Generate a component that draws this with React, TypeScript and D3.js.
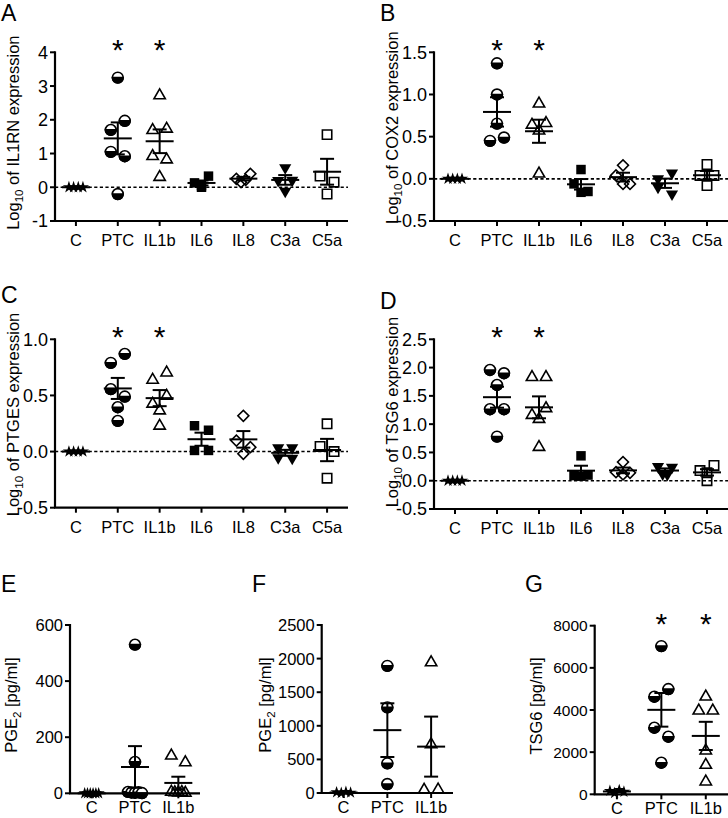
import React from 'react';
import * as d3 from 'd3';

// ---------- categories ----------
const categories = ['C', 'PTC', 'IL1b', 'IL6', 'IL8', 'C3a', 'C5a'];
const elisaCategories = ['C', 'PTC', 'IL1b'];
const significant = ['PTC', 'IL1b'];

// ---------- A: log10 IL1RN expression ----------
const il1rnC = [0, 0, 0, 0];
const il1rnPTC = [3.25, 1.7, 1.97, 1.05, 0.92, -0.2];
const il1rnIL1b = [2.72, 1.69, 1.73, 0.92, 0.82, 0.3];
const il1rnIL6 = [0.13, 0.05, 0.33, 0.0];
const il1rnIL8 = [0.25, 0.15, 0.22, 0.4];
const il1rnC3a = [0.58, 0.2, 0.21, -0.12];
const il1rnC5a = [1.56, 0.33, 0.15, -0.2];

// ---------- B: log10 COX2 expression ----------
const cox2C = [0, 0, 0, 0];
const cox2PTC = [1.37, 1.0, 0.655, 0.45, 0.49];
const cox2IL1b = [0.89, 0.64, 0.57, 0.66, 0.06];
const cox2IL6 = [0.11, -0.06, -0.16, -0.15];
const cox2IL8 = [0.16, 0.04, -0.06, -0.06];
const cox2C3a = [0.0, 0.07, -0.1, -0.18];
const cox2C5a = [0.17, 0.04, 0.04, -0.08];

// ---------- C: log10 PTGES expression ----------
const ptgesC = [0, 0, 0, 0];
const ptgesPTC = [0.79, 0.87, 0.556, 0.49, 0.395, 0.273];
const ptgesIL1b = [0.638, 0.703, 0.425, 0.496, 0.365, 0.229];
const ptgesIL6 = [0.23, 0.19, 0.01, 0.01];
const ptgesIL8 = [0.318, 0.098, 0.039, -0.02];
const ptgesC3a = [0.035, 0.035, -0.055, -0.06];
const ptgesC5a = [0.045, 0.0, 0.247, -0.237];

// ---------- D: log10 TSG6 expression ----------
const tsg6C = [0, 0, 0, 0];
const tsg6PTC = [1.958, 1.9, 1.693, 1.264, 1.264, 0.78];
const tsg6IL1b = [1.83, 1.83, 1.16, 1.09, 1.28, 0.594];
const tsg6IL6 = [0.44, 0.09, 0.08, 0.1];
const tsg6IL8 = [0.15, 0.11, 0.14, 0.33];
const tsg6C3a = [0.25, 0.12, 0.11, 0.24];
const tsg6C5a = [0.18, 0.14, 0.27, 0.0];

// ---------- E: PGE2 [pg/ml] ----------
const pge2aC = [0, 0, 0, 0, 0, 0];
const pge2aPTC = [530, 112, 5, 3, 2, 4, 1];
const pge2aIL1b = [134, 110, 5, 3, 2, 4, 1];

// ---------- F: PGE2 [pg/ml] ----------
const pge2bC = [10, 0, 15, 5];
const pge2bPTC = [1892, 1274, 441, 134];
const pge2bIL1b = [1942, 724, 45, 50];

// ---------- G: TSG6 [pg/ml] ----------
const tsg6pC = [160, 60, 200, 120];
const tsg6pPTC = [7033, 4630, 4993, 3160, 2733, 1500];
const tsg6pIL1b = [4630, 3966, 3966, 2070, 1390, 600];

// ---------- tick values ----------
const ticksA = [-1, 0, 1, 2, 3, 4];
const ticksB = [-0.5, 0, 0.5, 1.0, 1.5];
const ticksC = [-0.5, 0, 0.5, 1.0];
const ticksD = [-0.5, 0, 0.5, 1.0, 1.5, 2.0, 2.5];
const ticksE = [0, 200, 400, 600];
const ticksF = [0, 500, 1000, 1500, 2000, 2500];
const ticksG = [0, 2000, 4000, 6000, 8000];

const FONT = "'Liberation Sans', Arial, Helvetica, sans-serif";

const symbolFor: Record<string, string> = {
  C: 'star', PTC: 'half', IL1b: 'triUp', IL6: 'sqFilled', IL8: 'diamond', C3a: 'triDown', C5a: 'sqOpen',
};

type Seg = { t: string; sub?: boolean };

const fmtInt = (v: number) => d3.format('d')(v).replace('\u2212', '-');
const fmt1 = (v: number) => d3.format('.1f')(v).replace('\u2212', '-');

const panels = [
  {
    letter: 'A', lx: 1, ly: 21, x0: 55, xEnd: 348, yTop: 52.3, yBot: 221, domain: [-1, 4], ticks: ticksA, fmt: fmtInt,
    cats: categories, data: [il1rnC, il1rnPTC, il1rnIL1b, il1rnIL6, il1rnIL8, il1rnC3a, il1rnC5a],
    title: [{ t: 'Log' }, { t: '10', sub: true }, { t: ' of IL1RN expression' }] as Seg[], tOff: 36, tDy: -4, xlOff: 25, zero: true, tickFont: 18,
  },
  {
    letter: 'B', lx: 380, ly: 21, x0: 434, xEnd: 728, yTop: 52.3, yBot: 221, domain: [-0.5, 1.5], ticks: ticksB, fmt: fmt1,
    cats: categories, data: [cox2C, cox2PTC, cox2IL1b, cox2IL6, cox2IL8, cox2C3a, cox2C5a],
    title: [{ t: 'Log' }, { t: '10', sub: true }, { t: ' of COX2 expression' }] as Seg[], tOff: 36, tDy: -9, xlOff: 25, zero: true, tickFont: 18,
  },
  {
    letter: 'C', lx: 1, ly: 303, x0: 55, xEnd: 348, yTop: 339.3, yBot: 507.7, domain: [-0.5, 1.0], ticks: ticksC, fmt: fmt1,
    cats: categories, data: [ptgesC, ptgesPTC, ptgesIL1b, ptgesIL6, ptgesIL8, ptgesC3a, ptgesC5a],
    title: [{ t: 'Log' }, { t: '10', sub: true }, { t: ' of PTGES expression' }] as Seg[], tOff: 36, tDy: -9, xlOff: 25, zero: true, tickFont: 18,
  },
  {
    letter: 'D', lx: 380, ly: 309, x0: 434, xEnd: 728, yTop: 339.3, yBot: 509, domain: [-0.5, 2.5], ticks: ticksD, fmt: fmt1,
    cats: categories, data: [tsg6C, tsg6PTC, tsg6IL1b, tsg6IL6, tsg6IL8, tsg6C3a, tsg6C5a],
    title: [{ t: 'Log' }, { t: '10', sub: true }, { t: ' of TSG6 expression' }] as Seg[], tOff: 36, tDy: -12, xlOff: 25, zero: true, tickFont: 18,
  },
  {
    letter: 'E', lx: 1, ly: 592, x0: 70, xEnd: 200, yTop: 625, yBot: 793.3, domain: [0, 600], ticks: ticksE, fmt: fmtInt,
    cats: elisaCategories, data: [pge2aC, pge2aPTC, pge2aIL1b], stars: [] as string[],
    title: [{ t: 'PGE' }, { t: '2', sub: true }, { t: ' [pg/ml]' }] as Seg[], tOff: 53, tDy: -4, xlOff: 20, zero: false, tickFont: 16.5,
  },
  {
    letter: 'F', lx: 252, ly: 592, x0: 321.7, xEnd: 453, yTop: 625, yBot: 793, domain: [0, 2500], ticks: ticksF, fmt: fmtInt,
    cats: elisaCategories, data: [pge2bC, pge2bPTC, pge2bIL1b], stars: [] as string[],
    title: [{ t: 'PGE' }, { t: '2', sub: true }, { t: ' [pg/ml]' }] as Seg[], tOff: 51, tDy: -4, xlOff: 20, zero: false, tickFont: 16.5,
  },
  {
    letter: 'G', lx: 525, ly: 592, x0: 594.7, xEnd: 728, yTop: 625.7, yBot: 794.3, domain: [0, 8000], ticks: ticksG, fmt: fmtInt,
    cats: elisaCategories, data: [tsg6pC, tsg6pPTC, tsg6pIL1b],
    title: [{ t: 'TSG6 [pg/ml]' }] as Seg[], tOff: 53, tDy: -4, xlOff: 20, zero: false, tickFont: 15.5,
  },
];

// Spread points of similar value side by side (scatter dot plot layout)
function rowOffsets(values: number[], y: (v: number) => number, threshold = 10, extent = 14): number[] {
  const order = values.map((_, i) => i).sort((a, b) => values[b] - values[a]);
  const off = new Array(values.length).fill(0);
  let i = 0;
  while (i < order.length) {
    const row = [order[i]];
    const y0 = y(values[order[i]]);
    let j = i + 1;
    while (j < order.length && Math.abs(y(values[order[j]]) - y0) < threshold) {
      row.push(order[j]);
      j++;
    }
    row.sort((a, b) => a - b);
    const n = row.length;
    row.forEach((k, m) => {
      off[k] = n === 1 ? 0 : -extent / 2 + (extent * m) / (n - 1);
    });
    i = j;
  }
  return off;
}

const starPath = d3.symbol(d3.symbolStar, 46)() as string;
const triPath = d3.symbol(d3.symbolTriangle, 56)() as string;
const triDownPath = d3.symbol(d3.symbolTriangle, 64)() as string;
const sqFilledPath = d3.symbol(d3.symbolSquare, 90)() as string;
const sqOpenPath = d3.symbol(d3.symbolSquare, 88)() as string;
const diamondPath = d3.symbol(d3.symbolSquare, 60)() as string;

function Marker({ kind, x, y }: { kind: string; x: number; y: number }) {
  const tr = `translate(${x},${y})`;
  switch (kind) {
    case 'star':
      return <path d={starPath} transform={tr} fill="#000" />;
    case 'half': {
      const r = 5.4;
      return (
        <g transform={tr}>
          <circle r={r} fill="#fff" stroke="#000" strokeWidth={1.6} />
          <path d={`M ${-r} 0 A ${r} ${r} 0 0 0 ${r} 0 Z`} fill="#000" stroke="#000" strokeWidth={1.6} />
        </g>
      );
    }
    case 'triUp':
      return <path d={triPath} transform={tr} fill="none" stroke="#000" strokeWidth={1.6} />;
    case 'triDown':
      return <path d={triDownPath} transform={`${tr} rotate(180)`} fill="#000" />;
    case 'sqFilled':
      return <path d={sqFilledPath} transform={tr} fill="#000" />;
    case 'sqOpen':
      return <path d={sqOpenPath} transform={tr} fill="none" stroke="#000" strokeWidth={1.6} />;
    case 'diamond':
      return <path d={diamondPath} transform={`${tr} rotate(45)`} fill="none" stroke="#000" strokeWidth={1.6} />;
    default:
      return null;
  }
}

function Panel({ p }: { p: (typeof panels)[number] }) {
  const y = d3.scaleLinear().domain(p.domain).range([p.yBot, p.yTop]);
  const x = d3.scalePoint<string>().domain(p.cats).range([p.x0, p.xEnd]).padding(0.5);
  const stars = (p as any).stars ?? significant;
  const titleX = p.x0 - p.tOff;
  const titleY = (p.yTop + p.yBot) / 2 + p.tDy;
  return (
    <g>
      <text x={p.lx} y={p.ly} fontSize={23} fontFamily={FONT} fill="#000">{p.letter}</text>

      {p.zero && (
        <line x1={p.x0} x2={p.xEnd} y1={y(0)} y2={y(0)} stroke="#000" strokeWidth={1.6} strokeDasharray="3.2,2.4" />
      )}

      {/* points */}
      {p.cats.map((c, ci) => {
        const vals = p.data[ci];
        const offs = rowOffsets(vals, y);
        const cx = x(c) as number;
        return (
          <g key={'pts' + c}>
            {vals.map((v, i) => (
              <Marker key={i} kind={symbolFor[c]} x={cx + offs[i]} y={y(v)} />
            ))}
          </g>
        );
      })}

      {/* mean +/- SEM */}
      {p.cats.map((c, ci) => {
        const vals = p.data[ci];
        const m = d3.mean(vals) as number;
        const sem = (d3.deviation(vals) ?? 0) / Math.sqrt(vals.length);
        const cx = x(c) as number;
        return (
          <g key={'err' + c} stroke="#000" strokeWidth={2}>
            <line x1={cx - 14} x2={cx + 14} y1={y(m)} y2={y(m)} />
            <line x1={cx} x2={cx} y1={y(m - sem)} y2={y(m + sem)} />
            <line x1={cx - 7} x2={cx + 7} y1={y(m + sem)} y2={y(m + sem)} />
            <line x1={cx - 7} x2={cx + 7} y1={y(m - sem)} y2={y(m - sem)} />
          </g>
        );
      })}

      {/* significance */}
      {stars.map((c: string) => (
        <text key={'s' + c} x={x(c) as number} y={p.yTop + 8} fontSize={30} fontFamily={FONT} textAnchor="middle" fill="#000">*</text>
      ))}

      {/* y axis */}
      <line x1={p.x0} x2={p.x0} y1={p.yTop - 1} y2={p.yBot} stroke="#000" strokeWidth={2.2} />
      {p.ticks.map((t) => (
        <g key={'yt' + t}>
          <line x1={p.x0 - 5} x2={p.x0} y1={y(t)} y2={y(t)} stroke="#000" strokeWidth={2} />
          <text x={p.x0 - 7} y={y(t)} dy="0.36em" textAnchor="end" fontSize={p.tickFont} fontFamily={FONT} fill="#000">{p.fmt(t)}</text>
        </g>
      ))}

      {/* x axis */}
      <line x1={p.x0 - 1} x2={p.xEnd} y1={p.yBot} y2={p.yBot} stroke="#000" strokeWidth={2.2} />
      {p.cats.map((c) => (
        <g key={'xt' + c}>
          <line x1={x(c) as number} x2={x(c) as number} y1={p.yBot} y2={p.yBot + 5} stroke="#000" strokeWidth={2} />
          <text x={x(c) as number} y={p.yBot + p.xlOff} textAnchor="middle" fontSize={16.5} fontFamily={FONT} fill="#000">{c}</text>
        </g>
      ))}

      {/* y title */}
      <text transform={`translate(${titleX},${titleY}) rotate(-90)`} textAnchor="middle" fontSize={16.5} fontFamily={FONT} fill="#000">
        {p.title.map((s, i) =>
          s.sub ? (
            <tspan key={i} fontSize={11.5} dy={4}>{s.t}</tspan>
          ) : (
            <tspan key={i} dy={i > 0 && p.title[i - 1].sub ? -4 : 0}>{s.t}</tspan>
          )
        )}
      </text>
    </g>
  );
}

export default function App() {
  return (
    <svg width={728} height={818} style={{ position: 'absolute', left: 0, top: 0, background: '#fff' }}>
      <rect x={0} y={0} width={728} height={818} fill="#fff" />
      {panels.map((p) => (
        <Panel key={p.letter} p={p} />
      ))}
    </svg>
  );
}
